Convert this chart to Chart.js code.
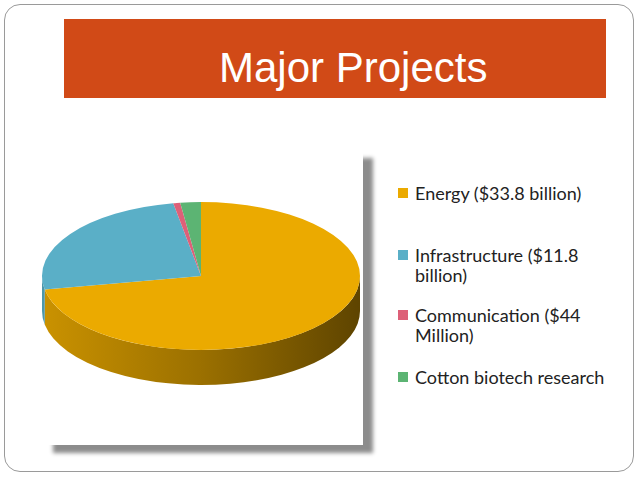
<!DOCTYPE html>
<html lang="en">
<head>
    <meta charset="UTF-8" />
    <title>Major Projects</title>
    <!-- Chart.js (CDN) -->
    <script src="https://cdn.jsdelivr.net/npm/chart.js@4.4.0/dist/chart.umd.min.js"></script>
    <style>
        body { margin: 0; background: #fff; width: 638px; height: 478px; position: relative; overflow: hidden; }
        .frame {
            position: absolute; left: 4px; top: 4px; width: 628px; height: 466px;
            border: 1px solid #9a9a9a; border-radius: 16px;
        }
        .banner {
            position: absolute; left: 64px; top: 19px; width: 542px; height: 79px;
            background: #d14a17;
        }
        .banner h1 {
            position: absolute; left: 155px; top: 9px; margin: 0;
            font: 42px "Liberation Sans", Arial, sans-serif; color: #fff;
            line-height: 79px; white-space: nowrap;
        }
        .picture {
            position: absolute; left: 43px; top: 150px; width: 320px; height: 295px;
            background: #fff; box-shadow: 10px 8px 4px rgba(0, 0, 0, 0.45);
        }
        .chart-box { position: absolute; left: 33px; top: 150px; width: 340px; height: 290px; }
        .legend { position: absolute; left: 398px; top: 0; font: 18px Lato, "Open Sans", sans-serif; color: #222; }
        .legend .item { position: absolute; left: 0; white-space: nowrap; line-height: 20px; }
        .legend .mark { position: absolute; left: 0; top: 5px; width: 10px; height: 10px; }
        .legend .txt { margin-left: 17px; }
    </style>
</head>
<body>
<div class="frame"></div>
<div class="banner"><h1>Major Projects</h1></div>
<div class="picture"></div>
<div class="chart-box"><canvas id="chartProyectos"></canvas></div>
<div class="legend" id="leyenda"></div>

<script>
    // Datos (miles de millones; los dos pequeños estimados del dibujo)
    const categorias = [
        ['Energy ($33.8 billion)'],
        ['Infrastructure ($11.8', 'billion)'],
        ['Communication ($44', 'Million)'],
        ['Cotton biotech research']
    ];
    const valores = [33.8, 11.8, 0.33, 0.98];
    const colores = ['#ebaa00', '#5aafc7', '#dd6078', '#5cb473'];
    const leyendaTop = [183, 245, 305, 367];

    const INCLINACION = 0.465; // aplastamiento vertical de la tarta
    const GROSOR = 35;         // canto de la tarta en px

    function oscurecer(hex, f) {
        const n = parseInt(hex.slice(1), 16);
        const r = Math.round(((n >> 16) & 255) * f);
        const g = Math.round(((n >> 8) & 255) * f);
        const b = Math.round((n & 255) * f);
        return `rgb(${r},${g},${b})`;
    }

    // Plugin: canto 3D + aplastar la tarta en elipse
    const tarta3d = {
        id: 'tarta3d',
        beforeDatasetsDraw(chart) {
            const ctx = chart.ctx;
            const arcos = chart.getDatasetMeta(0).data;
            const cx = arcos[0].x, cy = arcos[0].y, r = arcos[0].outerRadius;
            const ry = r * INCLINACION;

            arcos.forEach((arco, i) => {
                const a = Math.max(arco.startAngle, 0);
                const b = Math.min(arco.endAngle, Math.PI);
                if (b <= a) return;
                const grad = ctx.createLinearGradient(cx - r, 0, cx + r, 0);
                grad.addColorStop(0, oscurecer(colores[i], 0.86));
                grad.addColorStop(0.5, oscurecer(colores[i], 0.66));
                grad.addColorStop(1, oscurecer(colores[i], 0.40));
                ctx.beginPath();
                ctx.ellipse(cx, cy, r, ry, 0, a, b);
                ctx.ellipse(cx, cy + GROSOR, r, ry, 0, b, a, true);
                ctx.closePath();
                ctx.fillStyle = grad;
                ctx.fill();
            });

            ctx.save();
            ctx.translate(cx, cy);
            ctx.scale(1, INCLINACION);
            ctx.translate(-cx, -cy);
        },
        afterDatasetsDraw(chart) {
            chart.ctx.restore();
        }
    };

    const grafico = new Chart(document.getElementById('chartProyectos'), {
        type: 'pie',
        data: {
            labels: categorias,
            datasets: [
                {
                    data: valores,
                    backgroundColor: colores,
                    borderWidth: 0,
                    hoverOffset: 0,
                    clip: false
                }
            ]
        },
        options: {
            responsive: true,
            maintainAspectRatio: false,
            animation: false,
            events: [],
            radius: 159,
            layout: { padding: { left: 0, top: 0, right: 4, bottom: 38 } },
            plugins: {
                legend: { display: false },
                tooltip: { enabled: false }
            }
        },
        plugins: [tarta3d]
    });

    // Leyenda en HTML (texto en varias líneas)
    const leyenda = document.getElementById('leyenda');
    categorias.forEach((lineas, i) => {
        const item = document.createElement('div');
        item.className = 'item';
        item.style.top = leyendaTop[i] + 'px';
        item.innerHTML = `<span class="mark" style="background:${colores[i]}"></span>` +
            `<div class="txt">${lineas.join('<br>')}</div>`;
        leyenda.appendChild(item);
    });
</script>
</body>
</html>
